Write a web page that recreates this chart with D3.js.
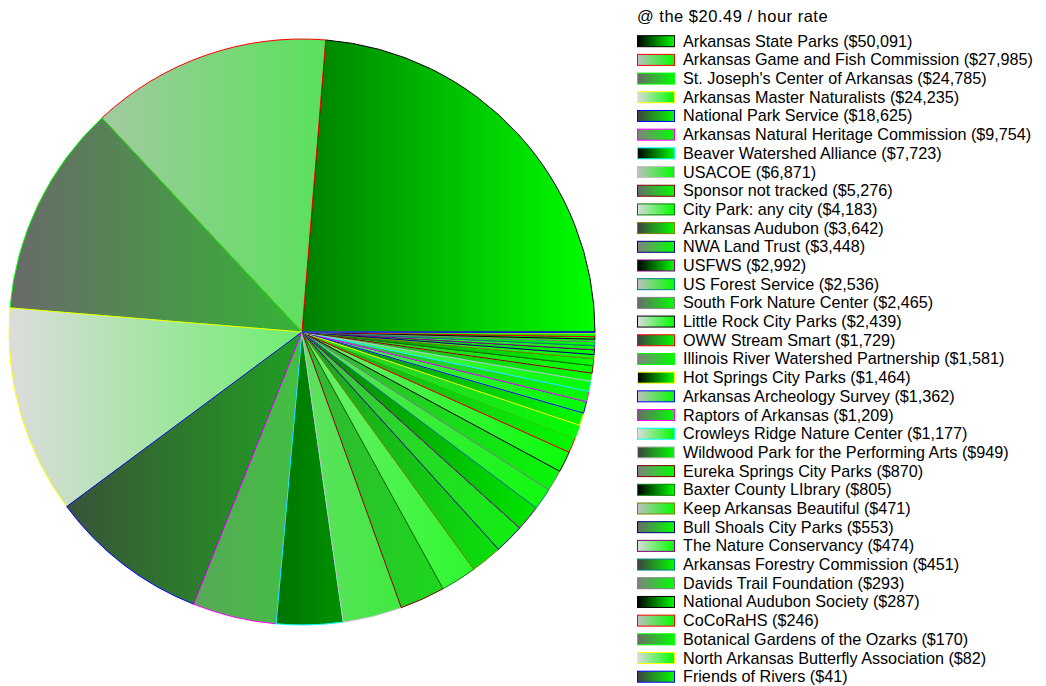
<!DOCTYPE html>
<html>
<head>
<meta charset="utf-8">
<script src="https://cdn.jsdelivr.net/npm/d3@7"></script>
<style>
  body { margin: 0; background: #fff; }
  svg { display: block; font-family: "Liberation Sans", Arial, sans-serif; }
</style>
</head>
<body>
<svg id="chart" width="1046" height="686"></svg>
<script>
const sponsors = [
  "Arkansas State Parks", "Arkansas Game and Fish Commission", "St. Joseph's Center of Arkansas",
  "Arkansas Master Naturalists", "National Park Service", "Arkansas Natural Heritage Commission",
  "Beaver Watershed Alliance", "USACOE", "Sponsor not tracked", "City Park: any city",
  "Arkansas Audubon", "NWA Land Trust", "USFWS", "US Forest Service", "South Fork Nature Center",
  "Little Rock City Parks", "OWW Stream Smart", "Illinois River Watershed Partnership",
  "Hot Springs City Parks", "Arkansas Archeology Survey", "Raptors of Arkansas",
  "Crowleys Ridge Nature Center", "Wildwood Park for the Performing Arts", "Eureka Springs City Parks",
  "Baxter County LIbrary", "Keep Arkansas Beautiful", "Bull Shoals City Parks", "The Nature Conservancy",
  "Arkansas Forestry Commission", "Davids Trail Foundation", "National Audubon Society", "CoCoRaHS",
  "Botanical Gardens of the Ozarks", "North Arkansas Butterfly Association", "Friends of Rivers"
];
const values = [
  50091, 27985, 24785, 24235, 18625, 9754, 7723, 6871, 5276, 4183,
  3642, 3448, 2992, 2536, 2465, 2439, 1729, 1581, 1464, 1362,
  1209, 1177, 949, 870, 805, 471, 553, 474, 451, 293,
  287, 246, 170, 82, 41
];
const title = "@ the $20.49 / hour rate";

// gradient start shades (cycle of 6) and outline colours (cycle of 15)
const startShades = ["#000000", "#c0c0c0", "#696969", "#dcdcdc", "#404040", "#808080"];
const outlines = ["#000000", "#ff0000", "#00ff00", "#ffff00", "#0000ff", "#ff00ff", "#00ffff",
  "#c0c0c0", "#800000", "#008000", "#808000", "#000080", "#800080", "#008080", "#808080"];
const endShade = "#00ff00";

const data = sponsors.map((name, i) => ({ name, value: values[i], i }));
const svg = d3.select("#chart");
const defs = svg.append("defs");

const cx = 302, cy = 332, r = 293;

// pie gradients run across the whole pie, left to right (local coords of the pie group)
data.forEach(d => {
  const g = defs.append("linearGradient")
    .attr("id", `pg${d.i}`)
    .attr("gradientUnits", "userSpaceOnUse")
    .attr("x1", -r).attr("x2", r).attr("y1", 0).attr("y2", 0);
  g.append("stop").attr("offset", 0).attr("stop-color", startShades[d.i % 6]);
  g.append("stop").attr("offset", 1).attr("stop-color", endShade);

  const lg = defs.append("linearGradient").attr("id", `lg${d.i}`);
  lg.append("stop").attr("offset", 0).attr("stop-color", startShades[d.i % 6]);
  lg.append("stop").attr("offset", 1).attr("stop-color", endShade);
});

// counter-clockwise from 3 o'clock
const pie = d3.pie().value(d => d.value).sort(null)
  .startAngle(Math.PI / 2).endAngle(Math.PI / 2 - 2 * Math.PI);
const arc = d3.arc().innerRadius(0).outerRadius(r);

svg.append("g")
  .attr("transform", `translate(${cx},${cy})`)
  .selectAll("path")
  .data(pie(data))
  .join("path")
  .attr("d", arc)
  .attr("fill", d => `url(#pg${d.data.i})`)
  .attr("stroke", d => outlines[d.data.i % 15])
  .attr("stroke-width", 1)
  .attr("stroke-linejoin", "round");

// legend
const legendX = 637;
const fmt = d3.format(",");
const rowY = d3.scaleLinear().domain([0, data.length - 1]).range([46.7, 682.2]);

svg.append("text")
  .attr("x", legendX).attr("y", 22)
  .attr("font-size", 16.5).attr("letter-spacing", 0.5).attr("fill", "#000")
  .text(title);

const rows = svg.append("g").selectAll("g")
  .data(data)
  .join("g")
  .attr("transform", d => `translate(0,${rowY(d.i)})`);

rows.append("rect")
  .attr("x", legendX + 0.5).attr("y", -11)
  .attr("width", 37).attr("height", 11)
  .attr("fill", d => `url(#lg${d.i})`)
  .attr("stroke", d => outlines[d.i % 15])
  .attr("stroke-width", 1);

rows.append("text")
  .attr("x", 683).attr("y", 0)
  .attr("font-size", 16.2).attr("fill", "#000")
  .text(d => `${d.name} ($${fmt(d.value)})`);
</script>
</body>
</html>
